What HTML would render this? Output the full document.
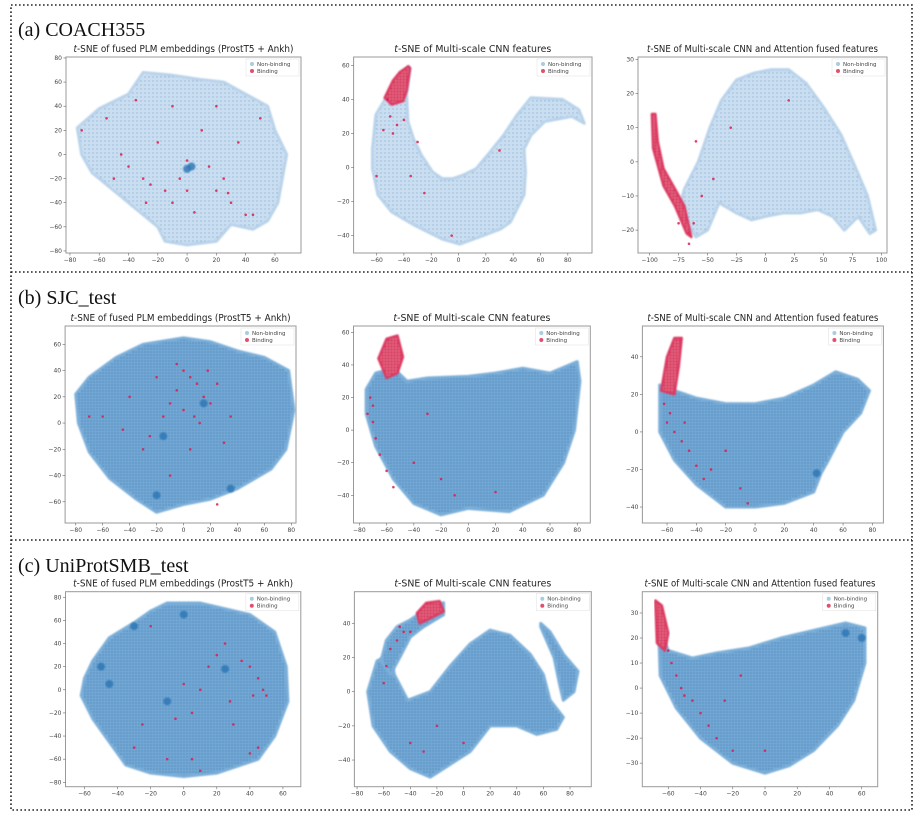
<!DOCTYPE html>
<html><head><meta charset="utf-8">
<style>
html,body{margin:0;padding:0;background:#fff;}
svg{display:block;}
.tick{font-family:"DejaVu Sans","Liberation Sans",sans-serif;font-size:6px;fill:#444;}
.ttl{font-family:"DejaVu Sans","Liberation Sans",sans-serif;font-size:9.5px;fill:#222;}
.lab{font-family:"Liberation Serif",serif;font-size:20px;fill:#111;}
.leg{font-family:"DejaVu Sans","Liberation Sans",sans-serif;font-size:5.5px;fill:#444;}
</style></head>
<body>
<svg id="fig" width="923" height="815" viewBox="0 0 923 815" xmlns="http://www.w3.org/2000/svg">
<defs>
<pattern id="dotsLight" width="4" height="4" patternUnits="userSpaceOnUse">
<rect width="4" height="4" fill="#d6e6f4"/><circle cx="1" cy="1" r="0.9" fill="#5f9cd0"/><circle cx="3" cy="3" r="0.6" fill="#9cc2e4"/></pattern>
<pattern id="dotsDense" width="3" height="3" patternUnits="userSpaceOnUse">
<rect width="3" height="3" fill="#8dbbe0"/><circle cx="1" cy="1" r="1" fill="#2a77b6"/><circle cx="2.5" cy="2.4" r="0.5" fill="#3f88c2"/></pattern>
<pattern id="dotsRed" width="3" height="3" patternUnits="userSpaceOnUse">
<rect width="3" height="3" fill="#e46a86"/><circle cx="1.5" cy="1.5" r="1.1" fill="#d41f4c"/></pattern>
<filter id="soft"><feGaussianBlur stdDeviation="0.8"/></filter>
</defs>
<rect x="11" y="5" width="901" height="805" fill="none" stroke="#222" stroke-width="1.6" stroke-dasharray="1.6 2.4"/>
<line x1="11" y1="272" x2="912" y2="272" stroke="#222" stroke-width="1.6" stroke-dasharray="1.6 2.4"/>
<line x1="11" y1="540" x2="912" y2="540" stroke="#222" stroke-width="1.6" stroke-dasharray="1.6 2.4"/>
<text class="lab" x="18" y="36">(a)  COACH355</text>
<text class="lab" x="18" y="304">(b) SJC_test</text>
<text class="lab" x="18" y="572">(c)  UniProtSMB_test</text>
<g id="plots"></g>
</svg>
<script>
// ---- data ----
const titlePLM = "of fused PLM embeddings (ProstT5 + Ankh)";
const titleCNN = "of Multi-scale CNN features";
const titleATT = "of Multi-scale CNN and Attention fused features";
const legendLabels = ["Non-binding","Binding"];

const a1XTicks=[-80,-60,-40,-20,0,20,40,60];
const a1YTicks=[-80,-60,-40,-20,0,20,40,60,80];
const a1Blue=[[-75,22],[-60,38],[-40,50],[-30,68],[-12,66],[10,62],[25,60],[40,50],[55,40],[60,20],[68,0],[65,-20],[62,-40],[55,-55],[45,-62],[30,-58],[20,-72],[0,-75],[-15,-72],[-20,-60],[-35,-45],[-50,-30],[-65,-15],[-72,0]];
const a1Red=[];
const a1RedPts=[[-50,-20],[-30,-20],[-25,-25],[-10,-40],[0,-30],[5,-48],[20,-30],[28,-32],[30,-40],[40,-50],[45,-50],[10,20],[-10,40],[-35,45],[-55,30],[-72,20],[-20,10],[15,-10],[-40,-10],[50,30],[35,10],[-5,-20],[-15,-30],[25,-20],[-28,-40],[0,-5],[20,40],[-45,0]];
const a1Dense=[[0,-12],[3,-10]];

const a2XTicks=[-60,-40,-20,0,20,40,60,80];
const a2YTicks=[-40,-20,0,20,40,60];
const a2Blue=[[-36.8,59.4],[-49,46.6],[-60.5,31],[-63,11],[-63,-0.6],[-59,-16],[-49,-26],[-32,-34],[-12,-42],[1,-45],[18,-40],[31,-36],[38,-32],[48,-16],[49,-2.6],[48,11],[53,19],[63,27],[83,30],[92,26],[88,34],[76,40],[53,41],[43,31],[33,19],[23,9],[13,-0.6],[3,-4.6],[-4,-6.5],[-12,-6.5],[-19,-2.6],[-27,7],[-33,17],[-37,27],[-38,43],[-35.5,58]];
const a2Red=[[-36.8,59.4],[-35.5,58.4],[-38,45],[-40.5,39],[-49,37],[-54,41],[-48,51],[-43,56]];
const a2RedPts=[[-50,30],[-45,25],[-55,22],[-48,20],[-40,28],[-52,40],[-30,15],[-35,-5],[-25,-15],[-5,-40],[-60,-5],[30,10]];
const a2Dense=[];

const a3XTicks=[-100,-75,-50,-25,0,25,50,75,100];
const a3YTicks=[-20,-10,0,10,20,30];
const a3Blue=[[-60,-22],[-75,-14],[-70,-8],[-58,0],[-48,10],[-38,18],[-25,24],[-10,26],[5,27],[20,27],[35,23],[50,16],[65,8],[78,-2],[88,-10],[95,-20],[90,-21],[80,-16],[68,-20],[58,-16],[45,-14],[30,-15],[15,-15],[0,-16],[-12,-17],[-25,-15],[-40,-12],[-50,-20]];
const a3Red=[[-98,14],[-95,14],[-93,6],[-88,-2],[-78,-8],[-70,-13],[-64,-22],[-68,-21],[-78,-13],[-88,-7],[-97,4]];
const a3RedPts=[[-60,6],[-55,-10],[-62,-18],[-30,10],[20,18],[-45,-5],[-75,-18],[-66,-24]];
const a3Dense=[];

const b1XTicks=[-80,-60,-40,-20,0,20,40,60,80];
const b1YTicks=[-60,-40,-20,0,20,40,60];
const b1Blue=[[-80,22],[-70,35],[-50,50],[-30,60],[0,65],[20,62],[40,55],[60,50],[78,40],[82,10],[76,-20],[65,-35],[40,-50],[20,-58],[0,-62],[-20,-68],[-35,-58],[-55,-42],[-70,-22],[-78,0]];
const b1Red=[];
const b1RedPts=[[0,40],[5,35],[10,30],[-5,25],[15,20],[20,15],[-10,15],[0,10],[8,5],[-15,5],[25,30],[-20,35],[18,40],[-5,45],[12,0],[-25,-10],[-30,-20],[30,-15],[-40,20],[-60,5],[-70,5],[5,-20],[-10,-40],[35,5],[-45,-5],[25,-62]];
const b1Dense=[[-20,-55],[15,15],[-15,-10],[35,-50]];

const b2XTicks=[-80,-60,-40,-20,0,20,40,60,80];
const b2YTicks=[-40,-20,0,20,40,60];
const b2Blue=[[-75,25],[-68,35],[-55,38],[-45,30],[-30,32],[0,33],[20,35],[40,38],[60,35],[80,42],[82,30],[78,0],[70,-20],[55,-40],[30,-50],[0,-48],[-20,-52],[-40,-45],[-55,-30],[-68,-10],[-75,10]];
const b2Red=[[-60,56],[-52,58],[-48,45],[-52,35],[-60,32],[-66,44]];
const b2RedPts=[[-72,20],[-70,15],[-74,10],[-70,5],[-68,-5],[-65,-15],[-60,-25],[-55,-35],[-40,-20],[-20,-30],[-10,-40],[20,-38],[-30,10]];
const b2Dense=[];

const b3XTicks=[-60,-40,-20,0,20,40,60,80];
const b3YTicks=[-40,-20,0,20,40];
const b3Blue=[[-65,25],[-55,22],[-40,18],[-20,15],[0,15],[20,18],[40,25],[55,32],[70,28],[78,22],[72,10],[60,0],[50,-15],[45,-22],[40,-32],[20,-38],[0,-40],[-20,-40],[-40,-28],[-55,-15],[-65,0]];
const b3Red=[[-60,40],[-55,50],[-50,50],[-52,35],[-55,20],[-64,22]];
const b3RedPts=[[-62,15],[-58,10],[-60,5],[-55,0],[-50,-5],[-45,-10],[-40,-18],[-35,-25],[-30,-20],[-20,-10],[-10,-30],[-5,-38],[-48,5]];
const b3Dense=[[42,-22]];

const c1XTicks=[-60,-40,-20,0,20,40,60];
const c1YTicks=[-80,-60,-40,-20,0,20,40,60,80];
const c1Blue=[[-60,10],[-55,25],[-45,45],[-30,58],[-20,68],[-10,75],[10,75],[25,70],[40,65],[55,50],[62,20],[63,-10],[55,-40],[45,-60],[20,-72],[0,-75],[-20,-72],[-35,-65],[-45,-45],[-55,-25],[-62,-5]];
const c1Red=[];
const c1RedPts=[[40,20],[45,10],[48,0],[42,-5],[35,25],[25,40],[20,30],[15,20],[10,0],[5,-20],[-5,-25],[-25,-30],[-30,-50],[5,-60],[10,-70],[40,-55],[45,-50],[30,-30],[-20,55],[0,5],[28,-10],[50,-5],[-10,-60]];
const c1Dense=[[-45,5],[-50,20],[25,18],[-10,-10],[0,65],[-30,55]];

const c2XTicks=[-80,-60,-40,-20,0,20,40,60,80];
const c2YTicks=[-40,-20,0,20,40];
const c2Blue=[[-72,0],[-65,18],[-55,22],[-52,10],[-42,-5],[-25,0],[-10,15],[5,28],[20,36],[35,33],[50,22],[60,10],[65,-5],[75,-15],[70,-22],[55,-25],[40,-20],[20,-20],[10,-30],[5,-35],[-5,-40],[-15,-45],[-25,-50],[-40,-45],[-55,-35],[-68,-20]];
const c2BlueArmR=[[58,40],[65,35],[75,22],[86,12],[83,0],[75,-5],[72,5],[68,20],[58,38]];
const c2BlueArmL=[[-62,18],[-58,30],[-50,38],[-40,42],[-25,50],[-15,52],[-15,45],[-30,38],[-40,32],[-48,20],[-55,10]];
const c2Red=[[-35,46],[-28,52],[-18,53],[-15,47],[-25,43],[-33,40]];
const c2RedPts=[[-45,35],[-50,30],[-55,25],[-48,38],[-40,35],[-58,15],[-60,5],[-40,-30],[-30,-35],[-20,-20],[0,-30]];
const c2Dense=[];

const c3XTicks=[-60,-40,-20,0,20,40,60];
const c3YTicks=[-30,-20,-10,0,10,20,30];
const c3Blue=[[-66,25],[-60,15],[-45,12],[-30,14],[-10,16],[10,20],[30,23],[50,26],[62,24],[62,10],[55,-5],[45,-15],[30,-25],[15,-31],[0,-34],[-20,-30],[-40,-20],[-55,-8],[-65,5]];
const c3Red=[[-68,35],[-64,33],[-60,22],[-62,15],[-67,18]];
const c3RedPts=[[-60,15],[-58,10],[-55,5],[-52,0],[-50,-3],[-45,-5],[-40,-10],[-35,-15],[-30,-20],[-20,-25],[-15,5],[0,-25],[-25,-5]];
const c3Dense=[[50,22],[60,20]];

// ---- layout (not data) ----
const panels=[
 {id:"a1",box:[66,57,301,253],xd:[-82.7,77.8],yd:[-81.7,80.8],xt:a1XTicks,yt:a1YTicks,blue:[a1Blue],red:a1Red,rp:a1RedPts,dn:a1Dense,title:titlePLM,tl:220,light:true},
 {id:"a2",box:[353.6,57,592,253],xd:[-76.8,97.7],yd:[-50.2,64.9],xt:a2XTicks,yt:a2YTicks,blue:[a2Blue],red:a2Red,rp:a2RedPts,dn:a2Dense,title:titleCNN,tl:157,light:true},
 {id:"a3",box:[638,57,887,253],xd:[-110,104.8],yd:[-26.7,30.7],xt:a3XTicks,yt:a3YTicks,blue:[a3Blue],red:a3Red,rp:a3RedPts,dn:a3Dense,title:titleATT,tl:231,light:true},
 {id:"b1",box:[65.1,326,296,523],xd:[-87.9,83.5],yd:[-76.2,74],xt:b1XTicks,yt:b1YTicks,blue:[b1Blue],red:b1Red,rp:b1RedPts,dn:b1Dense,title:titlePLM,tl:220,light:false},
 {id:"b2",box:[353.5,326,590.3,523],xd:[-84.3,89.6],yd:[-57,63.9],xt:b2XTicks,yt:b2YTicks,blue:[b2Blue],red:b2Red,rp:b2RedPts,dn:b2Dense,title:titleCNN,tl:157,light:false},
 {id:"b3",box:[642.4,326,883.4,523],xd:[-76.8,87.5],yd:[-48.5,56.4],xt:b3XTicks,yt:b3YTicks,blue:[b3Blue],red:b3Red,rp:b3RedPts,dn:b3Dense,title:titleATT,tl:231,light:false},
 {id:"c1",box:[65.5,591.7,300.8,786.7],xd:[-71.5,70.8],yd:[-83.8,84.8],xt:c1XTicks,yt:c1YTicks,blue:[c1Blue],red:c1Red,rp:c1RedPts,dn:c1Dense,title:titlePLM,tl:220,light:false},
 {id:"c2",box:[354.4,591.7,591.3,786.7],xd:[-82,96],yd:[-55.6,58.5],xt:c2XTicks,yt:c2YTicks,blue:[c2Blue,c2BlueArmR,c2BlueArmL],red:c2Red,rp:c2RedPts,dn:c2Dense,title:titleCNN,tl:157,light:false},
 {id:"c3",box:[642.3,591.7,877.7,786.7],xd:[-76.1,69.9],yd:[-39.4,38.5],xt:c3XTicks,yt:c3YTicks,blue:[c3Blue],red:c3Red,rp:c3RedPts,dn:c3Dense,title:titleATT,tl:231,light:false}
];
const NS="http://www.w3.org/2000/svg";
const root=document.getElementById("plots");
function mk(tag,attrs,parent){const e=document.createElementNS(NS,tag);for(const k in attrs)e.setAttribute(k,attrs[k]);parent.appendChild(e);return e;}
function fmt(v){return v<0?"\u2212"+Math.abs(v):String(v);}
panels.forEach(p=>{
 const [x0,y0,x1,y1]=p.box;
 const sx=v=>x0+(v-p.xd[0])/(p.xd[1]-p.xd[0])*(x1-x0);
 const sy=v=>y1-(v-p.yd[0])/(p.yd[1]-p.yd[0])*(y1-y0);
 const g=mk("g",{},root);
 
 
 const t=mk("text",{class:"ttl",x:(x0+x1)/2-p.tl/2,y:y0-5,textLength:p.tl,lengthAdjust:"spacingAndGlyphs"},g);
 t.innerHTML='<tspan font-style="italic">t</tspan>-SNE '+p.title.replace(/&/g,'&amp;');
 
 
 const clip=mk("clipPath",{id:"clip-"+p.id},g);
 mk("rect",{x:x0,y:y0,width:x1-x0,height:y1-y0},clip);
 const pg=mk("g",{"clip-path":"url(#clip-"+p.id+")"},g);
 p.blue.forEach((shape,i)=>{
  const pts=shape.map(d=>sx(d[0])+","+sy(d[1])).join(" ");
  const poly=mk("polygon",{points:pts,fill:p.light?"url(#dotsLight)":"url(#dotsDense)",stroke:p.light?"#b9d3ea":"#7aaed8","stroke-width":3,"stroke-linejoin":"round",filter:"url(#soft)"},pg);
  
  
 });
 p.dn.forEach(d=>{
  const c=mk("circle",{cx:sx(d[0]),cy:sy(d[1]),r:4,fill:"#2b74b3",opacity:0.8,filter:"url(#soft)"},pg);
  
  
 });
 if(p.red.length){
  const pts=p.red.map(d=>sx(d[0])+","+sy(d[1])).join(" ");
  const poly=mk("polygon",{points:pts,fill:"url(#dotsRed)",stroke:"#dc3a62","stroke-width":2.5,"stroke-linejoin":"round",filter:"url(#soft)"},pg);
  
  
 }
 p.rp.forEach(d=>{
  const c=mk("circle",{cx:sx(d[0]),cy:sy(d[1]),r:1.3,fill:"#d8204f",opacity:0.85},pg);
  
  
 });
 const fr=mk("rect",{x:x0,y:y0,width:x1-x0,height:y1-y0,fill:"none",stroke:"#999","stroke-width":1},g);
 
 
 p.xt.forEach(v=>{
  const X=sx(v);
  mk("line",{x1:X,x2:X,y1:y1,y2:y1+2.5,stroke:"#666","stroke-width":0.6},g);
  const tx=mk("text",{class:"tick",x:X,y:y1+9,"text-anchor":"middle"},g);
  tx.textContent=fmt(v);
  
  
 });
 p.yt.forEach(v=>{
  const Y=sy(v);
  mk("line",{x1:x0-2.5,x2:x0,y1:Y,y2:Y,stroke:"#666","stroke-width":0.6},g);
  const ty=mk("text",{class:"tick",x:x0-4,y:Y+2,"text-anchor":"end"},g);
  ty.textContent=fmt(v);
  
  
 });
 const lg=mk("g",{},g);
 
 
 mk("rect",{x:x1-55,y:y0+2,width:53,height:17,fill:"#fff","fill-opacity":0.8,stroke:"#e4e4e4","stroke-width":0.6},lg);
 const cols=["#a6cde0","#e0506f"];
 legendLabels.forEach((lab,i)=>{
  const c=mk("circle",{cx:x1-49,cy:y0+7+i*7,r:2,fill:cols[i]},lg);
  
  
  const tt=mk("text",{class:"leg",x:x1-44,y:y0+9+i*7},lg);
  tt.textContent=lab;
  
  
 });
});
</script>
</body></html>
